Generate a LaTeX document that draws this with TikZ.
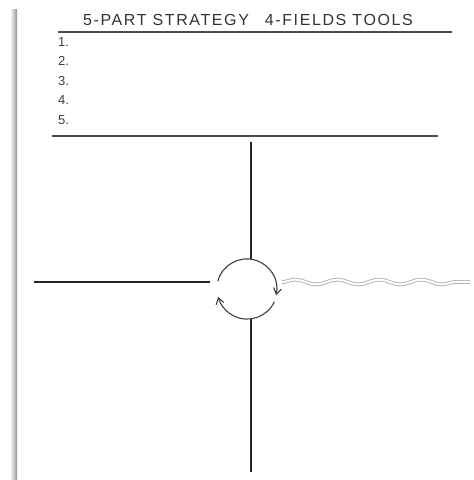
\documentclass[tikz,border=0pt]{standalone}
\usepackage{fontspec}
\setmainfont{Liberation Sans}
\usetikzlibrary{arrows.meta,decorations.pathmorphing}
\begin{document}
\begin{tikzpicture}[
	  x=1pt, y=1pt,
	  head/.style={font=\fontsize{16}{18}\selectfont\addfontfeatures{LetterSpace=10}, text=black!80, anchor=center},
	  num/.style={font=\fontsize{13}{15}\selectfont, text=black!75, anchor=west, inner sep=0pt},
	  rule/.style={draw=black!70, line width=1.1pt},
	  axis/.style={draw=black!85, line width=2.2pt},
	  cycarrow/.style={draw=black!75, line width=1.1pt, -{Straight Barb[length=6pt,width=8pt]}},
	  wave/.style={draw=gray!60, line width=0.9pt, double=white, double distance=2pt,
	    decorate, decoration={snake, amplitude=2.4pt, segment length=42pt}}]
	  \useasboundingbox (0,0) rectangle (474,480);
	  \fill[white] (0,0) rectangle (474,480);
	  \shade[left color=white, right color=gray!85] (10,0) rectangle (17,470);
	  % header and list
	  \node[head] (title) at (248, 460) {5-PART STRATEGY\quad 4-FIELDS TOOLS};
	  \coordinate (r1a) at (58, 448);
	  \coordinate (r1b) at (452, 448);
	  \draw[rule] (r1a) -- (r1b);
	  \foreach \i/\y in {1/438, 2/419, 3/399, 4/380, 5/360}
	    \node[num] (n\i) at (58, \y) {\i.};
	  \coordinate (r2a) at (52, 344);
	  \coordinate (r2b) at (438, 344);
	  \draw[rule] (r2a) -- (r2b);
	  % cycle in the middle
	  \node[circle, minimum size=60pt, inner sep=0pt] (cyc) at (247, 191) {};
	  \draw[cycarrow] (cyc.165) arc[start angle=165, end angle=-12, radius=30pt];
	  \draw[cycarrow] (cyc.-25) arc[start angle=-25, end angle=-165, radius=30pt];
	  % four fields
	  \coordinate (top) at (251, 338);
	  \coordinate (bot) at (251, 8);
	  \coordinate (west) at (34, 198);
	  \coordinate (westend) at (210, 198);
	  \coordinate (eaststart) at (282, 198);
	  \coordinate (east) at (470, 198);
	  \draw[axis] (top) -- (top |- cyc.north);
	  \draw[axis] (bot |- cyc.south) -- (bot);
	  \draw[axis] (west) -- (westend);
	  \draw[wave] (eaststart) -- (east);
	\end{tikzpicture}
\end{document}
